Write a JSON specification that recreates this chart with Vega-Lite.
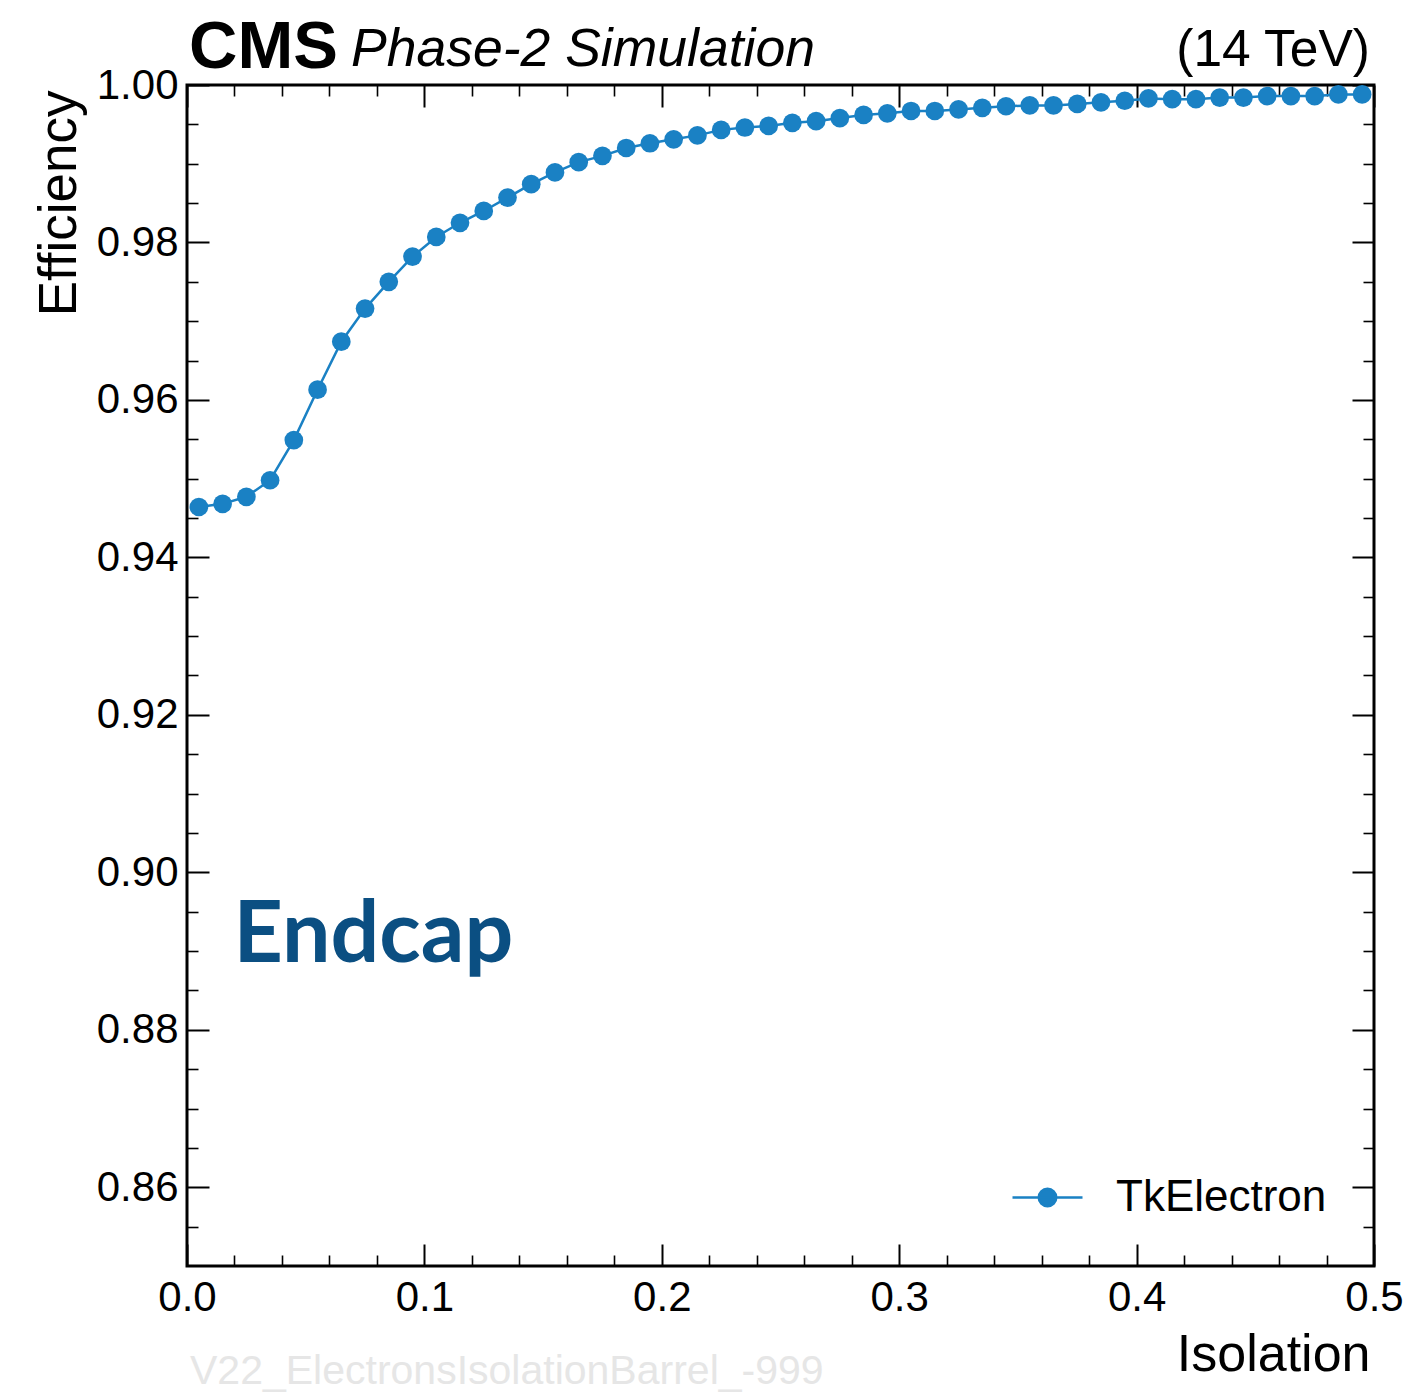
{
  "$schema": "https://vega.github.io/schema/vega-lite/v6.json",
  "autosize": {"type": "none"},
  "width": 1187,
  "height": 1181,
  "padding": {"left": 187, "top": 85, "right": 30, "bottom": 129},
  "background": "white",
  "config": {
    "view": {"stroke": "black", "strokeWidth": 3},
    "font": "Liberation Sans",
    "axis": {"grid": false, "domain": false, "labelColor": "black", "titleColor": "black", "tickColor": "black"}
  },
  "data": {"values": [
    {"iso": 0.005, "eff": 0.9464, "series": "TkElectron"},
    {"iso": 0.015, "eff": 0.9468, "series": "TkElectron"},
    {"iso": 0.025, "eff": 0.9477, "series": "TkElectron"},
    {"iso": 0.035, "eff": 0.9498, "series": "TkElectron"},
    {"iso": 0.045, "eff": 0.9549, "series": "TkElectron"},
    {"iso": 0.055, "eff": 0.9613, "series": "TkElectron"},
    {"iso": 0.065, "eff": 0.9674, "series": "TkElectron"},
    {"iso": 0.075, "eff": 0.9716, "series": "TkElectron"},
    {"iso": 0.085, "eff": 0.9750, "series": "TkElectron"},
    {"iso": 0.095, "eff": 0.9782, "series": "TkElectron"},
    {"iso": 0.105, "eff": 0.9807, "series": "TkElectron"},
    {"iso": 0.115, "eff": 0.9825, "series": "TkElectron"},
    {"iso": 0.125, "eff": 0.9840, "series": "TkElectron"},
    {"iso": 0.135, "eff": 0.9857, "series": "TkElectron"},
    {"iso": 0.145, "eff": 0.9874, "series": "TkElectron"},
    {"iso": 0.155, "eff": 0.9889, "series": "TkElectron"},
    {"iso": 0.165, "eff": 0.9902, "series": "TkElectron"},
    {"iso": 0.175, "eff": 0.9910, "series": "TkElectron"},
    {"iso": 0.185, "eff": 0.9920, "series": "TkElectron"},
    {"iso": 0.195, "eff": 0.9926, "series": "TkElectron"},
    {"iso": 0.205, "eff": 0.9931, "series": "TkElectron"},
    {"iso": 0.215, "eff": 0.9936, "series": "TkElectron"},
    {"iso": 0.225, "eff": 0.9943, "series": "TkElectron"},
    {"iso": 0.235, "eff": 0.9946, "series": "TkElectron"},
    {"iso": 0.245, "eff": 0.9948, "series": "TkElectron"},
    {"iso": 0.255, "eff": 0.9952, "series": "TkElectron"},
    {"iso": 0.265, "eff": 0.9954, "series": "TkElectron"},
    {"iso": 0.275, "eff": 0.9958, "series": "TkElectron"},
    {"iso": 0.285, "eff": 0.9962, "series": "TkElectron"},
    {"iso": 0.295, "eff": 0.9964, "series": "TkElectron"},
    {"iso": 0.305, "eff": 0.9967, "series": "TkElectron"},
    {"iso": 0.315, "eff": 0.9967, "series": "TkElectron"},
    {"iso": 0.325, "eff": 0.9969, "series": "TkElectron"},
    {"iso": 0.335, "eff": 0.9971, "series": "TkElectron"},
    {"iso": 0.345, "eff": 0.9973, "series": "TkElectron"},
    {"iso": 0.355, "eff": 0.9974, "series": "TkElectron"},
    {"iso": 0.365, "eff": 0.9974, "series": "TkElectron"},
    {"iso": 0.375, "eff": 0.9976, "series": "TkElectron"},
    {"iso": 0.385, "eff": 0.9978, "series": "TkElectron"},
    {"iso": 0.395, "eff": 0.9980, "series": "TkElectron"},
    {"iso": 0.405, "eff": 0.9983, "series": "TkElectron"},
    {"iso": 0.415, "eff": 0.9982, "series": "TkElectron"},
    {"iso": 0.425, "eff": 0.9982, "series": "TkElectron"},
    {"iso": 0.435, "eff": 0.9984, "series": "TkElectron"},
    {"iso": 0.445, "eff": 0.9984, "series": "TkElectron"},
    {"iso": 0.455, "eff": 0.9986, "series": "TkElectron"},
    {"iso": 0.465, "eff": 0.9986, "series": "TkElectron"},
    {"iso": 0.475, "eff": 0.9986, "series": "TkElectron"},
    {"iso": 0.485, "eff": 0.9988, "series": "TkElectron"},
    {"iso": 0.495, "eff": 0.9988, "series": "TkElectron"}
  ]},
  "resolve": {"axis": {"x": "independent", "y": "independent"}},
  "layer": [
    {
      "mark": {"type": "point", "opacity": 0},
      "encoding": {
        "x": {"field": "iso", "type": "quantitative", "scale": {"domain": [0, 0.5], "nice": false, "zero": false},
          "axis": {"orient": "bottom", "values": [0, 0.1, 0.2, 0.3, 0.4, 0.5], "format": ".1f", "ticks": false,
            "labelFontSize": 42, "labelPadding": 11, "labelFlush": false, "labelOverlap": false, "labelBound": false,
            "title": "Isolation", "titleFontSize": 52, "titleFontWeight": "normal", "titleAlign": "right", "titleBaseline": "alphabetic",
            "titleAnchor": null, "titleX": 1183, "titleY": 104}},
        "y": {"field": "eff", "type": "quantitative", "scale": {"domain": [0.85, 1.0], "nice": false, "zero": false},
          "axis": {"orient": "left", "values": [0.86, 0.88, 0.9, 0.92, 0.94, 0.96, 0.98, 1.0], "format": ".2f", "ticks": false,
            "labelFontSize": 42, "labelPadding": 9, "labelFlush": false, "labelOverlap": false, "labelBound": false,
            "title": "Efficiency", "titleFontSize": 53, "titleFontWeight": "normal", "titleAngle": 270, "titleAlign": "right",
            "titleBaseline": "alphabetic", "titleAnchor": null, "titleX": -112, "titleY": 5}}
      }
    },
    {
      "mark": {"type": "point", "opacity": 0},
      "encoding": {
        "x": {"field": "iso", "type": "quantitative",
          "axis": {"orient": "bottom", "values": [0, 0.1, 0.2, 0.3, 0.4, 0.5], "labels": false, "ticks": true, "tickSize": -22, "tickWidth": 2, "title": null}},
        "y": {"field": "eff", "type": "quantitative",
          "axis": {"orient": "left", "values": [0.86, 0.88, 0.9, 0.92, 0.94, 0.96, 0.98, 1.0], "labels": false, "ticks": true, "tickSize": -22, "tickWidth": 2, "title": null}}
      }
    },
    {
      "mark": {"type": "point", "opacity": 0},
      "encoding": {
        "x": {"field": "iso", "type": "quantitative",
          "axis": {"orient": "bottom", "values": [0.02, 0.04, 0.06, 0.08, 0.12, 0.14, 0.16, 0.18, 0.22, 0.24, 0.26, 0.28, 0.32, 0.34, 0.36, 0.38, 0.42, 0.44, 0.46, 0.48], "labels": false, "ticks": true, "tickSize": -11, "tickWidth": 1.6, "title": null}},
        "y": {"field": "eff", "type": "quantitative",
          "axis": {"orient": "left", "values": [0.855, 0.865, 0.87, 0.875, 0.885, 0.89, 0.895, 0.905, 0.91, 0.915, 0.925, 0.93, 0.935, 0.945, 0.95, 0.955, 0.965, 0.97, 0.975, 0.985, 0.99, 0.995], "labels": false, "ticks": true, "tickSize": -11, "tickWidth": 1.6, "title": null}}
      }
    },
    {
      "mark": {"type": "point", "opacity": 0},
      "encoding": {
        "x": {"field": "iso", "type": "quantitative",
          "axis": {"orient": "top", "values": [0, 0.1, 0.2, 0.3, 0.4, 0.5], "labels": false, "ticks": true, "tickSize": -22, "tickWidth": 2, "title": null}},
        "y": {"field": "eff", "type": "quantitative",
          "axis": {"orient": "right", "values": [0.86, 0.88, 0.9, 0.92, 0.94, 0.96, 0.98, 1.0], "labels": false, "ticks": true, "tickSize": -22, "tickWidth": 2, "title": null}}
      }
    },
    {
      "mark": {"type": "point", "opacity": 0},
      "encoding": {
        "x": {"field": "iso", "type": "quantitative",
          "axis": {"orient": "top", "values": [0.02, 0.04, 0.06, 0.08, 0.12, 0.14, 0.16, 0.18, 0.22, 0.24, 0.26, 0.28, 0.32, 0.34, 0.36, 0.38, 0.42, 0.44, 0.46, 0.48], "labels": false, "ticks": true, "tickSize": -11, "tickWidth": 1.6, "title": null}},
        "y": {"field": "eff", "type": "quantitative",
          "axis": {"orient": "right", "values": [0.855, 0.865, 0.87, 0.875, 0.885, 0.89, 0.895, 0.905, 0.91, 0.915, 0.925, 0.93, 0.935, 0.945, 0.95, 0.955, 0.965, 0.97, 0.975, 0.985, 0.99, 0.995], "labels": false, "ticks": true, "tickSize": -11, "tickWidth": 1.6, "title": null}}
      }
    },
    {
      "mark": {"type": "line", "color": "#1a81c4", "strokeWidth": 2.5},
      "encoding": {
        "x": {"field": "iso", "type": "quantitative", "axis": null},
        "y": {"field": "eff", "type": "quantitative", "axis": null}
      }
    },
    {
      "mark": {"type": "point", "filled": true, "opacity": 1, "size": 350},
      "encoding": {
        "x": {"field": "iso", "type": "quantitative", "axis": null},
        "y": {"field": "eff", "type": "quantitative", "axis": null},
        "color": {"field": "series", "type": "nominal", "scale": {"range": ["#1a81c4"]},
          "legend": {"orient": "none", "legendX": 824, "legendY": 1076, "title": null, "padding": 0,
            "symbolType": "M -1 0 L 1 0 M 0.25 0 A 0.25 0.25 0 1 1 -0.25 0 A 0.25 0.25 0 1 1 0.25 0 Z",
            "symbolSize": 4900, "symbolStrokeWidth": 2.5, "symbolFillColor": "#1a81c4", "symbolStrokeColor": "#1a81c4", "symbolOpacity": 1,
            "labelFontSize": 44, "labelFont": "Liberation Sans", "labelColor": "black", "labelOffset": 32, "labelLimit": 0,
            "encode": {"symbols": {"update": {"stroke": {"value": "#1a81c4"}, "strokeWidth": {"value": 2.5}, "fill": {"value": "#1a81c4"}, "opacity": {"value": 1}}}}}}
      }
    },
    {
      "data": {"values": [{"label": "CMS"}]},
      "mark": {"type": "text", "align": "left", "baseline": "alphabetic", "font": "Liberation Sans", "fontWeight": "bold", "fontSize": 67, "color": "black", "dx": 2, "dy": -17},
      "encoding": {"x": {"datum": 0, "type": "quantitative", "axis": null}, "y": {"datum": 1.0, "type": "quantitative", "axis": null}, "text": {"field": "label"}}
    },
    {
      "data": {"values": [{"label": "Phase-2 Simulation"}]},
      "mark": {"type": "text", "align": "left", "baseline": "alphabetic", "font": "Liberation Sans", "fontStyle": "italic", "fontSize": 53.5, "color": "black", "dx": 164, "dy": -19},
      "encoding": {"x": {"datum": 0, "type": "quantitative", "axis": null}, "y": {"datum": 1.0, "type": "quantitative", "axis": null}, "text": {"field": "label"}}
    },
    {
      "data": {"values": [{"label": "(14 TeV)"}]},
      "mark": {"type": "text", "align": "right", "baseline": "alphabetic", "font": "Liberation Sans", "fontSize": 51.5, "color": "black", "dx": -4, "dy": -19},
      "encoding": {"x": {"datum": 0.5, "type": "quantitative", "axis": null}, "y": {"datum": 1.0, "type": "quantitative", "axis": null}, "text": {"field": "label"}}
    },
    {
      "data": {"values": [{"label": "Endcap"}]},
      "mark": {"type": "text", "align": "left", "baseline": "alphabetic", "font": "Lato", "fontWeight": "bold", "fontSize": 86, "color": "#0b4f82", "dx": -1, "dy": 11},
      "encoding": {"x": {"datum": 0.02, "type": "quantitative", "axis": null}, "y": {"datum": 0.89, "type": "quantitative", "axis": null}, "text": {"field": "label"}}
    },
    {
      "data": {"values": [{"label": "V22_ElectronsIsolationBarrel_-999"}]},
      "mark": {"type": "text", "align": "left", "baseline": "alphabetic", "font": "Liberation Sans", "fontSize": 41, "color": "#e6e6e6", "dx": 3, "dy": 118},
      "encoding": {"x": {"datum": 0, "type": "quantitative", "axis": null}, "y": {"datum": 0.85, "type": "quantitative", "axis": null}, "text": {"field": "label"}}
    }
  ]
}
